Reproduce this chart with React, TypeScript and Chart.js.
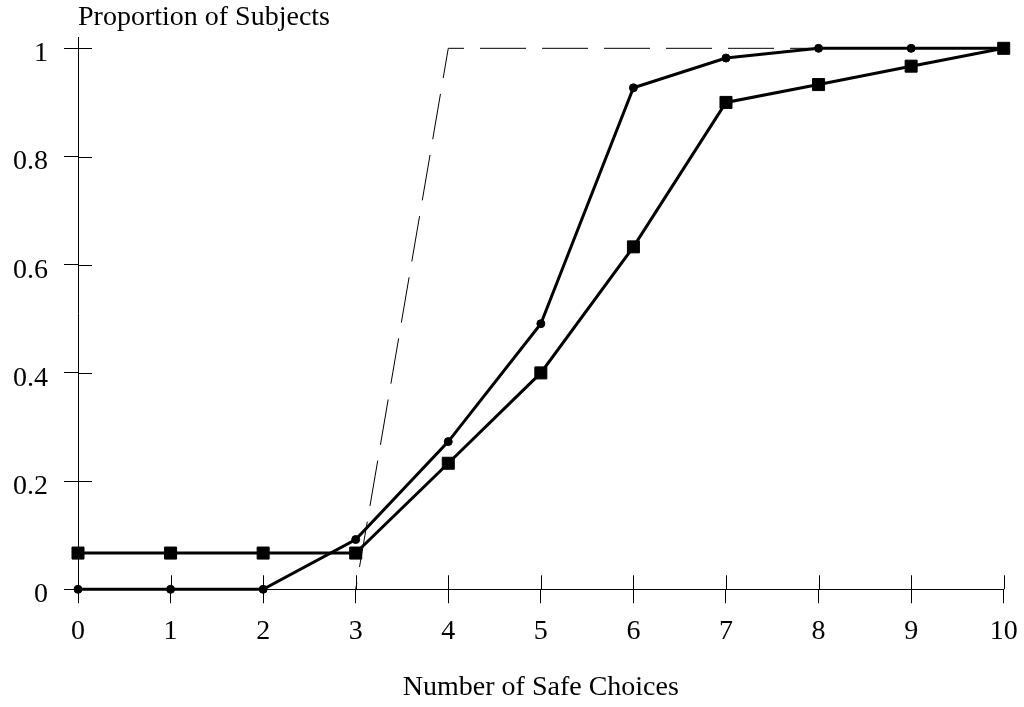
import React, { useEffect, useRef } from "react";
import { Chart, registerables } from "chart.js";

Chart.register(...registerables);

const safeChoices = [0, 1, 2, 3, 4, 5, 6, 7, 8, 9, 10];
const circleSeries = [0, 0, 0, 0.092, 0.273, 0.491, 0.927, 0.982, 1, 1, 1];
const squareSeries = [0.067, 0.067, 0.067, 0.067, 0.233, 0.4, 0.633, 0.9, 0.933, 0.967, 1];
const riskNeutralX = [3, 4, 10];
const riskNeutralY = [0, 1, 1];
const yTickValues = [0, 0.2, 0.4, 0.6, 0.8, 1];
const yTickLabels = ["0", "0.2", "0.4", "0.6", "0.8", "1"];
const xTickValues = [0, 1, 2, 3, 4, 5, 6, 7, 8, 9, 10];
const xTickLabels = ["0", "1", "2", "3", "4", "5", "6", "7", "8", "9", "10"];

const FONT = "'Liberation Serif', 'Times New Roman', Times, serif";
const TICK = 14;

const innerTicks = {
  id: "innerTicks",
  beforeDatasetsDraw(chart: any) {
    const { ctx, chartArea } = chart;
    const xs = chart.scales.x;
    const ys = chart.scales.y;
    ctx.save();
    ctx.strokeStyle = "#000";
    ctx.lineWidth = 1;
    ctx.beginPath();
    xs.ticks.forEach((t: any) => {
      const px = Math.round(xs.getPixelForValue(t.value)) + 0.5;
      ctx.moveTo(px, chartArea.bottom);
      ctx.lineTo(px, chartArea.bottom - TICK);
    });
    ys.ticks.forEach((t: any) => {
      const py = Math.round(ys.getPixelForValue(t.value)) + 0.5;
      ctx.moveTo(chartArea.left, py);
      ctx.lineTo(chartArea.left + TICK, py);
    });
    ctx.stroke();
    ctx.restore();
  },
};

export default function App() {
  const ref = useRef<HTMLCanvasElement | null>(null);

  useEffect(() => {
    if (!ref.current) return;
    const chart = new Chart(ref.current, {
      type: "line",
      data: {
        datasets: [
          {
            label: "Risk neutral",
            data: riskNeutralX.map((x, i) => ({ x, y: riskNeutralY[i] })),
            borderColor: "#000",
            borderWidth: 1,
            borderDash: [46, 16],
            borderDashOffset: 39.4,
            pointRadius: 0,
            fill: false,
            tension: 0,
            clip: false,
          },
          {
            label: "Circles",
            data: safeChoices.map((x, i) => ({ x, y: circleSeries[i] })),
            borderColor: "#000",
            borderWidth: 3,
            pointStyle: "circle",
            pointRadius: 4,
            pointBorderWidth: 1,
            pointBackgroundColor: "#000",
            pointBorderColor: "#000",
            fill: false,
            tension: 0,
            clip: false,
          },
          {
            label: "Squares",
            data: safeChoices.map((x, i) => ({ x, y: squareSeries[i] })),
            borderColor: "#000",
            borderWidth: 3,
            pointStyle: "rect",
            pointRadius: 8.5,
            pointBorderWidth: 1,
            pointBackgroundColor: "#000",
            pointBorderColor: "#000",
            fill: false,
            tension: 0,
            clip: false,
          },
        ],
      },
      options: {
        responsive: false,
        animation: false,
        devicePixelRatio: 1,
        layout: { padding: { left: 0, right: 20.3, top: 0, bottom: 0 } },
        plugins: {
          legend: { display: false },
          tooltip: { enabled: false },
          title: {
            display: true,
            text: "Proportion of Subjects",
            align: "start",
            position: "top",
            fullSize: false,
            color: "#000",
            font: { family: FONT, size: 28, weight: "normal" },
            padding: { top: 0.5, bottom: 3.4 },
          },
        },
        scales: {
          x: {
            type: "linear",
            position: "bottom",
            min: 0,
            max: 10,
            afterFit: (s: any) => {
              s.height = 117.7;
              s.paddingLeft = 0;
              s.paddingRight = 0;
            },
            afterBuildTicks: (s: any) => {
              s.ticks = xTickValues.map((v) => ({ value: v }));
            },
            ticks: {
              color: "#000",
              font: { family: FONT, size: 28 },
              padding: 12,
              maxRotation: 0,
              autoSkip: false,
              callback: (v: any, i: number) => xTickLabels[i],
            },
            grid: {
              drawOnChartArea: false,
              drawTicks: true,
              tickLength: TICK,
              color: "#000",
              lineWidth: 1,
            },
            border: { display: true, color: "#000", width: 1 },
            title: {
              display: true,
              text: "Number of Safe Choices",
              color: "#000",
              font: { family: FONT, size: 28 },
              padding: { top: 0, bottom: 3 },
            },
          },
          y: {
            type: "linear",
            position: "left",
            min: 0,
            max: 1.02,
            afterFit: (s: any) => {
              s.width = 78;
              s.paddingTop = 0;
              s.paddingBottom = 0;
            },
            afterBuildTicks: (s: any) => {
              s.ticks = yTickValues.map((v) => ({ value: v }));
            },
            ticks: {
              color: "#000",
              font: { family: FONT, size: 28 },
              padding: 16,
              labelOffset: 5.5,
              autoSkip: false,
              callback: (v: any, i: number) => yTickLabels[i],
            },
            grid: {
              drawOnChartArea: false,
              drawTicks: true,
              tickLength: TICK,
              color: "#000",
              lineWidth: 1,
            },
            border: { display: true, color: "#000", width: 1 },
          },
        },
      } as any,
      plugins: [innerTicks],
    });
    return () => chart.destroy();
  }, []);

  return (
    <div
      style={{
        position: "fixed",
        left: 0,
        top: 0,
        width: 1024,
        height: 707,
        background: "#fff",
      }}
    >
      <canvas ref={ref} width={1024} height={707} style={{ display: "block" }} />
    </div>
  );
}
